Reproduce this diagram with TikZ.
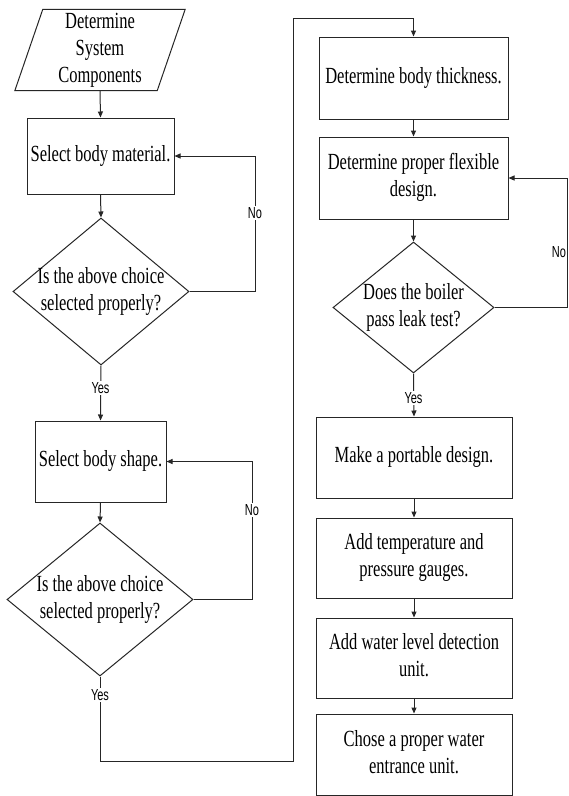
\documentclass[tikz,border=0pt]{standalone}
\usepackage{fontspec}
\usepackage{graphicx}
\setmainfont{Liberation Serif}
\newfontfamily\lblsans{Liberation Sans}
\usetikzlibrary{shapes.geometric,arrows.meta}
\definecolor{ln}{gray}{0.15}
\newcommand{\vtxt}[1]{\scalebox{1}[1.4]{\fontsize{16.5}{19.3}\selectfont\begin{tabular}{@{}c@{}}#1\end{tabular}}}
\newcommand{\ylab}[1]{\scalebox{1}[1.45]{\lblsans\fontsize{11}{13}\selectfont #1}}
\tikzset{
  box/.style={draw=ln, line width=1pt, inner sep=0pt},
  dia/.style={draw=ln, diamond, line width=1pt, inner sep=0pt},
  lbl/.style={fill=white, inner sep=1pt},
  arr/.style={draw=ln, line width=1pt, -{Triangle[length=6pt,width=5pt]}},
  wire/.style={draw=ln, line width=1pt},
}
\begin{document}
\begin{tikzpicture}[x=1pt,y=-1pt]
\useasboundingbox[fill=white] (0,0) rectangle (569,796);
% left column
\node[inner sep=0pt, minimum width=142pt, minimum height=80pt] (start) at (100,50) {\vtxt{Determine\\System\\Components}};
\draw[wire] ([xshift=14pt]start.north west) -- ([xshift=14pt]start.north east)
  -- ([xshift=-14pt]start.south east) -- ([xshift=-14pt]start.south west) -- cycle;
\node[box, minimum width=147pt, minimum height=76pt] (b1) at (100.5,156) {\vtxt{Select body material.}};
\node[dia, minimum width=176pt, minimum height=147pt] (d1) at (101,291.5) {};
\node[inner sep=0pt] (d1t) at (d1) {\vtxt{Is the above choice\\selected properly?}};
\node[box, minimum width=131pt, minimum height=81pt] (b2) at (100.5,461.5) {\vtxt{Select body shape.}};
\node[dia, minimum width=186pt, minimum height=153pt] (d2) at (100,599.5) {};
\node[inner sep=0pt] (d2t) at (d2) {\vtxt{Is the above choice\\selected properly?}};
% right column
\node[box, minimum width=189pt, minimum height=82pt] (b3) at (413.5,78) {\vtxt{Determine body thickness.}};
\node[box, minimum width=189pt, minimum height=82pt] (b4) at (413.5,178) {\vtxt{Determine proper flexible\\design.}};
\node[dia, minimum width=161pt, minimum height=131pt] (d3) at (413.5,307.5) {};
\node[inner sep=0pt] (d3t) at (d3) {\vtxt{Does the boiler\\pass leak test?}};
\node[box, minimum width=196pt, minimum height=81pt] (b5) at (414,457.5) {\vtxt{Make a portable design.}};
\node[box, minimum width=196pt, minimum height=80pt] (b6) at (414,558) {\vtxt{Add temperature and\\pressure gauges.}};
\node[box, minimum width=196pt, minimum height=80pt] (b7) at (414,658) {\vtxt{Add water level detection\\unit.}};
\node[box, minimum width=196pt, minimum height=81pt] (b8) at (414,754.5) {\vtxt{Chose a proper water\\entrance unit.}};
% coordinates
\coordinate (n1) at (255,156);
\coordinate (n2) at (252,461.5);
\coordinate (n3) at (567,178);
\coordinate (c1) at (100,761);
\coordinate (c2) at (293,761);
\coordinate (c3) at (293,18);
\coordinate (c4) at (413.5,18);
% connectors
\draw[arr] (start.south) -- (b1.north);
\draw[arr] (b1.south) -- (d1.north);
\draw[arr] (d1.east) -| (n1) -- (b1.east);
\draw[arr] (d1.south) -- (b2.north);
\draw[arr] (b2.south) -- (d2.north);
\draw[arr] (d2.east) -| (n2) -- (b2.east);
\draw[arr] (d2.south) -- (c1) -- (c2) -- (c3) -- (c4) -- (b3.north);
\draw[arr] (b3.south) -- (b4.north);
\draw[arr] (b4.south) -- (d3.north);
\draw[arr] (d3.east) -| (n3) -- (b4.east);
\draw[arr] (d3.south) -- (b5.north);
\draw[arr] (b5.south) -- (b6.north);
\draw[arr] (b6.south) -- (b7.north);
\draw[arr] (b7.south) -- (b8.north);
% labels
\node[lbl] (no1) at (255,213) {\ylab{No}};
\node[lbl] (yes1) at (100.5,388) {\ylab{Yes}};
\node[lbl] (no2) at (252,510) {\ylab{No}};
\node[lbl] (yes2) at (100,695) {\ylab{Yes}};
\node[lbl] (no3) at (559,252) {\ylab{No}};
\node[lbl] (yes3) at (413.5,398) {\ylab{Yes}};
\end{tikzpicture}
\end{document}
